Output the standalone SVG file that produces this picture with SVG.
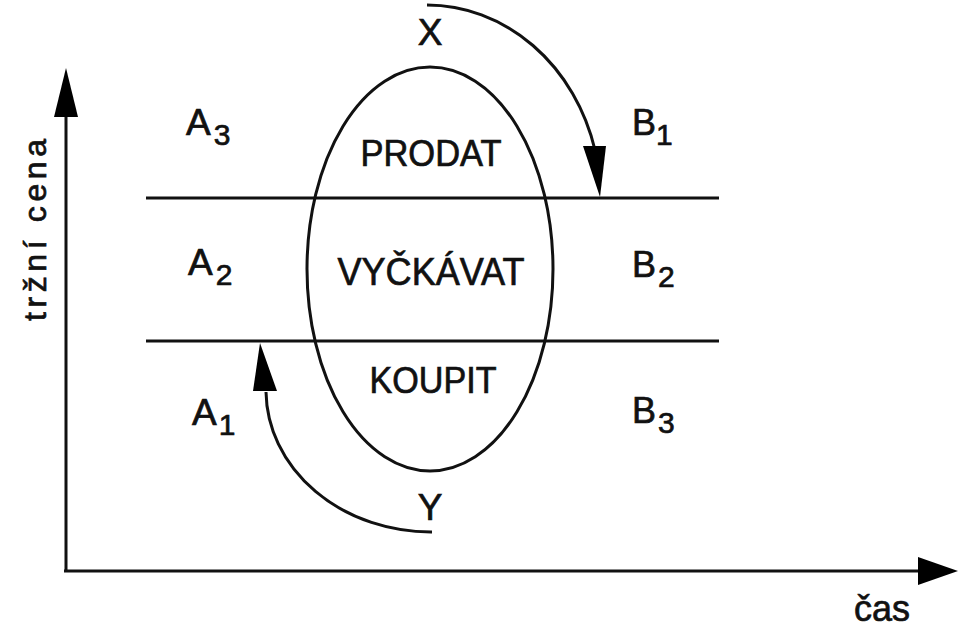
<svg xmlns="http://www.w3.org/2000/svg" width="971" height="632" viewBox="0 0 971 632">
<style>
.t{font-family:"Liberation Sans",Arial,Helvetica,sans-serif;fill:#111;stroke:#111;stroke-width:0.7;}
.ln{stroke:#111;stroke-width:3;fill:none;}
.ah{fill:#000;}
</style>
<rect width="971" height="632" fill="#fff"/>
<g id="axes">
<line class="ln" x1="66" y1="572" x2="66" y2="112"/>
<polygon class="ah" points="66,68 54,117 78,117"/>
<line class="ln" x1="64" y1="571" x2="922" y2="571"/>
<polygon class="ah" points="958,571 918,557 918,585"/>
<text class="t" font-size="32" stroke-width="0.4" transform="translate(46,230) rotate(-90)" text-anchor="middle" textLength="182" lengthAdjust="spacing">tržní cena</text>
<text class="t" font-size="36" stroke-width="0.4" x="854" y="621">čas</text>
</g>
<g id="bands">
<line class="ln" x1="146" y1="198" x2="719" y2="198"/>
<line class="ln" x1="146" y1="341" x2="719" y2="341"/>
</g>
<g id="ellipse">
<ellipse class="ln" stroke-width="2.6" cx="430" cy="269" rx="123" ry="202"/>
<text class="t" font-size="36" x="431" y="166" text-anchor="middle" textLength="141" lengthAdjust="spacingAndGlyphs">PRODAT</text>
<text class="t" font-size="38" x="431" y="285" text-anchor="middle" textLength="187" lengthAdjust="spacingAndGlyphs">VYČKÁVAT</text>
<text class="t" font-size="36" x="433" y="393" text-anchor="middle" textLength="127" lengthAdjust="spacingAndGlyphs">KOUPIT</text>
</g>
<g id="labels-A">
<text class="t" font-size="37" x="186" y="135">A<tspan font-size="30" dx="3" dy="10">3</tspan></text>
<text class="t" font-size="37" x="188" y="275">A<tspan font-size="30" dx="3" dy="10">2</tspan></text>
<text class="t" font-size="37" x="192" y="425">A<tspan font-size="30" dx="2" dy="10">1</tspan></text>
</g>
<g id="labels-B">
<text class="t" font-size="36" x="632" y="135">B<tspan font-size="30" dx="0" dy="10">1</tspan></text>
<text class="t" font-size="36" x="632" y="277">B<tspan font-size="30" dx="2" dy="10">2</tspan></text>
<text class="t" font-size="36" x="632" y="423">B<tspan font-size="30" dx="2" dy="10">3</tspan></text>
</g>
<g id="connectors">
<path class="ln" stroke-width="2.6" d="M427,5 A174,195 0 0 1 595,150"/>
<polygon class="ah" points="600,197 583,146 606,146"/>
<text class="t" font-size="37" x="430" y="45" text-anchor="middle">X</text>
<path class="ln" stroke-width="2.6" d="M432,532 A165,142 0 0 1 266,392"/>
<polygon class="ah" points="260,343 253,391 277,391"/>
<text class="t" font-size="37" x="430" y="520" text-anchor="middle">Y</text>
</g>
</svg>
